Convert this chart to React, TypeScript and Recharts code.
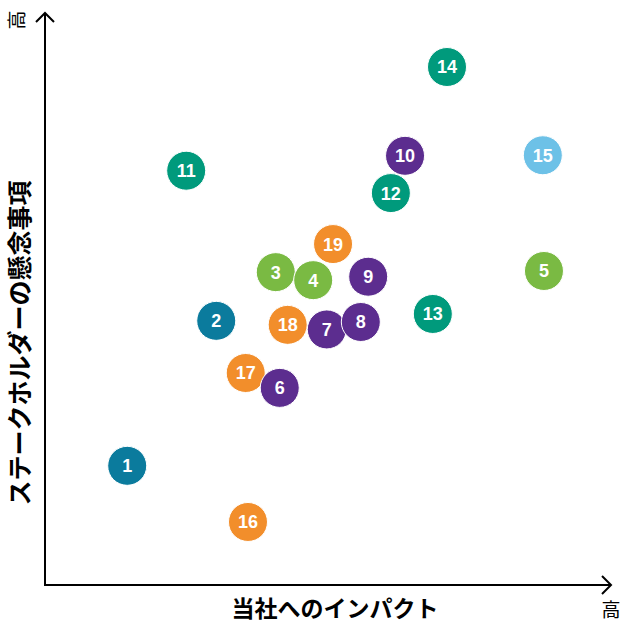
import { Scatter, ScatterChart, XAxis, YAxis } from 'recharts';

// Bubble positions on a 0–100 grid (x = impact on company, y = stakeholder concern)
const TEAL_BLUE = [
  { id: 1, x: 14.5, y: 20.8 },
  { id: 2, x: 30.2, y: 46.1 },
];
const ORANGE = [
  { id: 16, x: 35.8, y: 11.0 },
  { id: 17, x: 35.4, y: 37.0 },
  { id: 18, x: 42.8, y: 45.4 },
  { id: 19, x: 50.8, y: 59.5 },
];
const GREEN_TEAL = [
  { id: 11, x: 24.9, y: 72.3 },
  { id: 12, x: 61.0, y: 68.4 },
  { id: 13, x: 68.4, y: 47.3 },
  { id: 14, x: 70.9, y: 90.4 },
];
const LIGHT_BLUE = [{ id: 15, x: 87.8, y: 75.0 }];
const GREEN = [
  { id: 3, x: 40.7, y: 54.6 },
  { id: 4, x: 47.3, y: 53.2 },
  { id: 5, x: 88.0, y: 54.8 },
];
const PURPLE = [
  { id: 6, x: 41.4, y: 34.4 },
  { id: 7, x: 49.7, y: 44.6 },
  { id: 8, x: 55.7, y: 45.9 },
  { id: 9, x: 57.0, y: 53.8 },
  { id: 10, x: 63.5, y: 74.9 },
];

const SERIES = [
  { name: 'teal-blue', data: TEAL_BLUE, color: '#0b7b9d' },
  { name: 'orange', data: ORANGE, color: '#f28e2b' },
  { name: 'green-teal', data: GREEN_TEAL, color: '#009a7c' },
  { name: 'light-blue', data: LIGHT_BLUE, color: '#6dc1e7' },
  { name: 'green', data: GREEN, color: '#7aba43' },
  { name: 'purple', data: PURPLE, color: '#5c2d8f' },
];

const W = 623;
const H = 628;
const LEFT = 45;
const TOP = 12;
const RIGHT = 612;
const BOTTOM = 585;

function bubble(color: string) {
  return (props: any) => {
    const { cx, cy, payload } = props;
    return (
      <g>
        <circle cx={cx} cy={cy} r={19.5} fill={color} stroke="#fff" strokeWidth={1} />
        <text
          x={cx}
          y={cy}
          dy="0.36em"
          textAnchor="middle"
          fill="#fff"
          fontSize={18}
          fontWeight="bold"
          fontFamily="'Liberation Sans', Arial, sans-serif"
        >
          {payload.id}
        </text>
      </g>
    );
  };
}

export default function App() {
  return (
    <div style={{ position: 'absolute', left: 0, top: 0, width: W, height: H, background: '#fff' }}>
      <ScatterChart
        width={W}
        height={H}
        margin={{ top: TOP, right: W - RIGHT, left: LEFT, bottom: H - BOTTOM }}
      >
        <XAxis type="number" dataKey="x" domain={[0, 100]} hide />
        <YAxis type="number" dataKey="y" domain={[0, 100]} hide />
        {SERIES.map((s) => (
          <Scatter
            key={s.name}
            name={s.name}
            data={s.data}
            fill={s.color}
            shape={bubble(s.color)}
            isAnimationActive={false}
          />
        ))}
      </ScatterChart>
      <svg
        width={W}
        height={H}
        style={{ position: 'absolute', left: 0, top: 0, pointerEvents: 'none' }}
      >
        {/* axes with arrowheads */}
        <polyline
          points={`${LEFT},${TOP + 1} ${LEFT},${BOTTOM} ${RIGHT - 1},${BOTTOM}`}
          fill="none"
          stroke="#000"
          strokeWidth={2}
        />
        <polyline
          points={`${LEFT - 9},${TOP + 10} ${LEFT},${TOP + 1} ${LEFT + 9},${TOP + 10}`}
          fill="none"
          stroke="#000"
          strokeWidth={2}
        />
        <polyline
          points={`${RIGHT - 10},${BOTTOM - 9} ${RIGHT - 1},${BOTTOM} ${RIGHT - 10},${BOTTOM + 9}`}
          fill="none"
          stroke="#000"
          strokeWidth={2}
        />
        <text
          x={335}
          y={611}
          textAnchor="middle"
          dominantBaseline="middle"
          fontSize={23}
          fontWeight="bold"
          fontFamily="'Noto Sans CJK JP', sans-serif"
          fill="#000"
        >
          当社へのインパクト
        </text>
        <text
          transform="translate(22, 343) rotate(-90)"
          textAnchor="middle"
          dominantBaseline="middle"
          fontSize={25}
          fontWeight="bold"
          fontFamily="'Noto Sans CJK JP', sans-serif"
          fill="#000"
        >
          ステークホルダーの懸念事項
        </text>
        <text
          transform="translate(19, 20) rotate(-90)"
          textAnchor="middle"
          dominantBaseline="middle"
          fontSize={19}
          fontFamily="'Noto Sans CJK JP', sans-serif"
          fill="#000"
        >
          高
        </text>
        <text
          x={611}
          y={612}
          textAnchor="middle"
          dominantBaseline="middle"
          fontSize={19}
          fontFamily="'Noto Sans CJK JP', sans-serif"
          fill="#000"
        >
          高
        </text>
      </svg>
    </div>
  );
}
